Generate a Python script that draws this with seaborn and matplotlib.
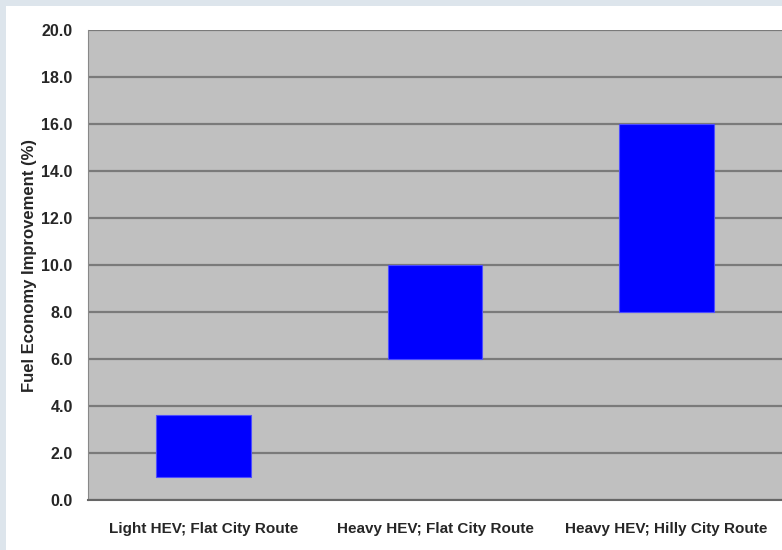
import pandas as pd
import numpy as np
import matplotlib
matplotlib.use("Agg")
import matplotlib.pyplot as plt
import seaborn as sns
from matplotlib.patches import Rectangle

# --- data ---
categories = ["Light HEV; Flat City Route", "Heavy HEV; Flat City Route", "Heavy HEV; Hilly City Route"]
low = [1.0, 6.0, 8.0]
high = [3.6, 10.0, 16.0]

df = pd.DataFrame({"Category": categories, "Low": low, "High": high})
df["Span"] = df["High"] - df["Low"]

sns.set_style("white")
plt.rcParams["font.family"] = ["Liberation Sans", "DejaVu Sans"]

fig = plt.figure(figsize=(7.82, 5.5), dpi=100)
fig.patch.set_facecolor("#dde5ec")
# white panel behind the chart
fig.patches.append(Rectangle((6 / 782, 0), 1, 1 - 6 / 550, transform=fig.transFigure,
                             facecolor="white", edgecolor="none", zorder=-10))

ax = fig.add_axes([88 / 782, 50 / 550, 1 - 88 / 782, 470 / 550])
ax.set_facecolor("#c0c0c0")

sns.barplot(data=df, x="Category", y="Span", bottom=df["Low"].values, color="#0000ff",
            saturation=1, width=0.41, edgecolor="#4d4dff", linewidth=0.8, ax=ax, zorder=3)

ax.set_ylim(0, 20)
ax.set_xlim(-0.5, 2.5)
yt = np.arange(0, 20.1, 2)
ax.set_yticks(yt)
ax.set_yticklabels([f"{v:.1f}" for v in yt], fontsize=11.5, fontweight="bold", color="#262626")
ax.set_xticks([0.5, 1.5], minor=True)
ax.set_xticks([0, 1, 2])
ax.set_xticklabels(categories, fontsize=11, fontweight="bold", color="#262626")
ax.tick_params(axis="x", which="major", length=0, pad=16)
ax.tick_params(axis="x", which="minor", length=5, color="#888888", direction="out")
ax.tick_params(axis="y", length=9, color="#888888", width=1, direction="out", pad=2)

ax.yaxis.grid(True, color="#7a7a7a", linewidth=1.6, zorder=1)
ax.set_axisbelow(True)

for side in ["top", "right"]:
    ax.spines[side].set_visible(False)
ax.spines["left"].set_color("#888888")
ax.spines["bottom"].set_color("#666666")
ax.spines["bottom"].set_linewidth(1.5)

ax.set_xlabel("")
ax.set_ylabel("Fuel Economy Improvement (%)", fontsize=12, fontweight="bold", color="#262626",
              labelpad=3)

fig.savefig("out.png", dpi=100)
